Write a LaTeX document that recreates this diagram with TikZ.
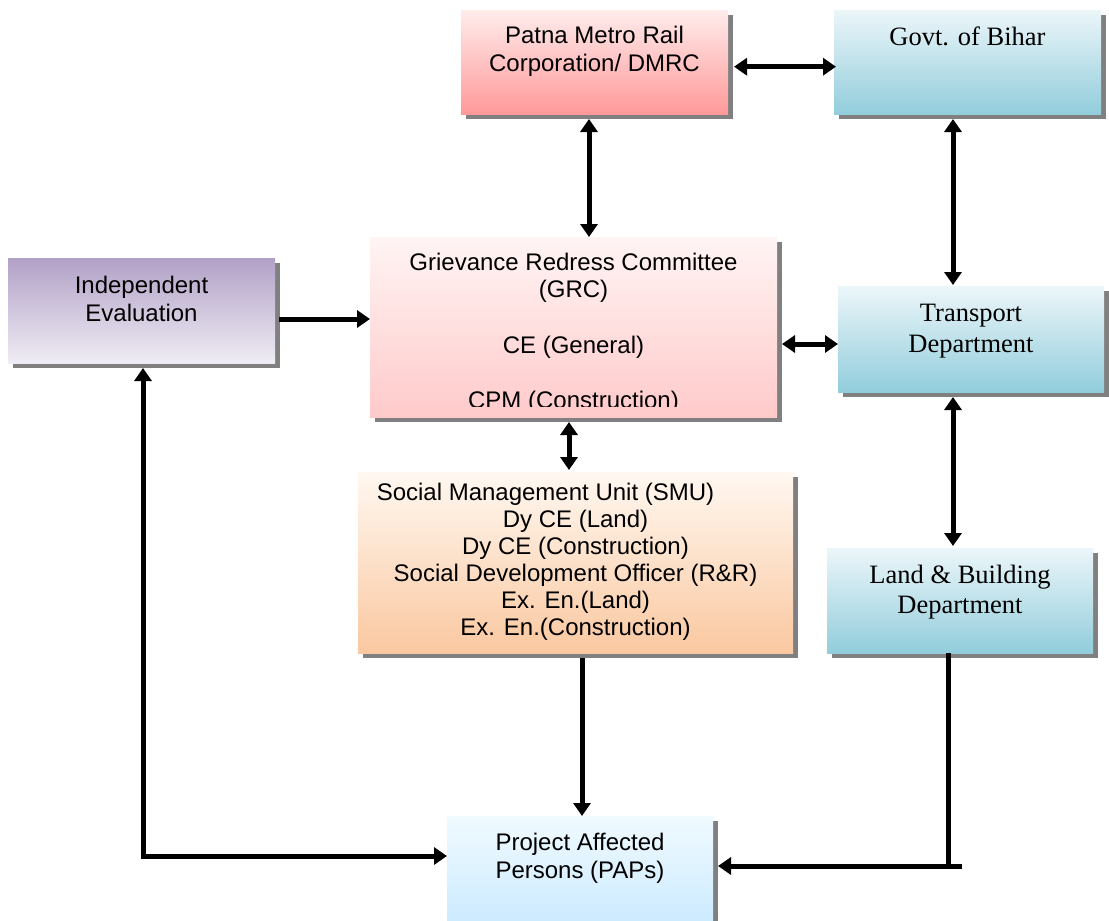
\documentclass[tikz,border=0pt]{standalone}
\usepackage{fontspec}
\setmainfont{Liberation Serif}
\setsansfont{Liberation Sans}
\usetikzlibrary{arrows.meta,shadows,calc}
\definecolor{pmrcT}{RGB}{255,236,236}
\definecolor{pmrcB}{RGB}{255,153,153}
\definecolor{aquaT}{RGB}{236,246,249}
\definecolor{aquaB}{RGB}{146,205,220}
\definecolor{ieT}{RGB}{178,161,199}
\definecolor{ieM}{RGB}{196,183,212}
\definecolor{ieB}{RGB}{239,236,244}
\definecolor{grcT}{RGB}{255,244,244}
\definecolor{grcB}{RGB}{255,202,202}
\definecolor{smuT}{RGB}{255,248,241}
\definecolor{smuB}{RGB}{250,200,160}
\definecolor{papT}{RGB}{240,250,255}
\definecolor{papB}{RGB}{200,233,255}
\definecolor{shd}{RGB}{128,128,128}
\begin{document}
\begin{tikzpicture}[x=1pt,y=-1pt,
  box/.style={draw=none, inner sep=0pt, outer sep=0pt, anchor=north west,
    drop shadow={shadow xshift=5pt, shadow yshift=-5pt, fill=shd, opacity=1}},
  sftext/.style={font=\sffamily\fontsize{24}{27.6}\selectfont, align=center, inner sep=0pt},
  rmtext/.style={font=\rmfamily\fontsize{26.5}{30.5}\selectfont, align=center, inner sep=0pt},
  conn/.style={line width=5pt},
  arr/.style={conn, -{Triangle[length=13pt,width=17pt]}},
  darr/.style={conn, {Triangle[length=13pt,width=17pt]}-{Triangle[length=13pt,width=17pt]}}]
\useasboundingbox (0,0) rectangle (1109,921);
\clip (0,0) rectangle (1109,921);

% boxes
\node[box, top color=pmrcT, bottom color=pmrcB, minimum width=267, minimum height=104] (pmrc) at (461,10) {};
\node[box, top color=aquaT, bottom color=aquaB, minimum width=267, minimum height=104] (govt) at (834,10) {};
\node[box, top color=ieT, middle color=ieM, bottom color=ieB, minimum width=267, minimum height=105] (ie) at (8,258) {};
\node[box, top color=grcT, bottom color=grcB, minimum width=407, minimum height=180] (grc) at (370,237) {};
\node[box, top color=aquaT, bottom color=aquaB, minimum width=266, minimum height=106] (trans) at (838,286) {};
\node[box, top color=smuT, bottom color=smuB, minimum width=435, minimum height=181] (smu) at (358,472) {};
\node[box, top color=aquaT, bottom color=aquaB, minimum width=266, minimum height=105] (lb) at (827,548) {};
\node[box, top color=papT, bottom color=papB, minimum width=266, minimum height=119] (paps) at (447,816) {};

% texts
\node[sftext] (pmrcT) at (594.5,51) {Patna Metro Rail\\Corporation/ DMRC};
\node[rmtext] (govtT) at (967.5,36) {Govt. of Bihar};
\node[sftext] (ieT) at (141.5,299) {Independent\\Evaluation};
\begin{scope}
  \clip (370,237) rectangle (777,406.5);
  \node[sftext] (grcT) at (573.5,333) {Grievance Redress Committee\\(GRC)\\[27.6pt]CE (General)\\[27.6pt]CPM (Construction)};
\end{scope}
\node[sftext, font=\sffamily\fontsize{24}{27}\selectfont] (smuT) at (575.5,561.5)
  {Social Management Unit (SMU)\hspace*{60pt}\\Dy CE (Land)\\Dy CE (Construction)\\Social Development Officer (R\&R)\\Ex. En.(Land)\\Ex. En.(Construction)};
\node[rmtext] (transT) at (971,331) {Transport\\Department};
\node[rmtext] (lbT) at (960,592) {Land \& Building\\Department};
\node[sftext] (papsT) at (580,858) {Project Affected\\Persons (PAPs)};

% connectors
\coordinate (a1) at ($(pmrc.east)+(6,4.7)$);
\draw[darr] (a1) -- ($(a1 -| govt.west)+(2,0)$);
\coordinate (a2) at ($(pmrc.south)+(-5.5,5)$);
\draw[darr] (a2) -- (a2 |- grc.north);
\coordinate (a3) at ($(govt.south)+(-14.5,5)$);
\draw[darr] (a3) -- ($(a3 |- trans.north)+(0,-1)$);
\coordinate (a4) at ($(ie.east)+(4,8.5)$);
\draw[arr] (a4) -- (a4 -| grc.west);
\coordinate (a5) at ($(grc.east)+(5,17)$);
\draw[darr] (a5) -- (a5 -| trans.west);
\coordinate (a6) at ($(grc.south)+(-4.5,5)$);
\draw[darr] (a6) -- ($(a6 |- smu.north)+(0,-2)$);
\coordinate (a7) at ($(trans.south)+(-18,5)$);
\draw[darr] (a7) -- ($(a7 |- lb.north)+(0,-2)$);
\coordinate (a8) at ($(smu.south)+(6.5,5)$);
\draw[arr] (a8) -- (a8 |- paps.north);
\coordinate (a9) at ($(lb.south)+(-12,0)$);
\coordinate (lbj) at (962,866);
\draw[conn] (a9) -- ($(a9 |- lbj)+(0,2.5)$);
\draw[arr] (lbj) -- ($(lbj -| paps.east)+(5,0)$);
\coordinate (a10) at ($(ie.south)+(1.5,5)$);
\draw[darr] (a10) |- ($(paps.west)+(0,-19.5)$);
\end{tikzpicture}
\end{document}
